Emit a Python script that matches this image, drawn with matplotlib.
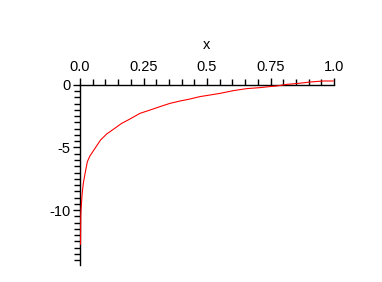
import numpy as np
import matplotlib
matplotlib.use('Agg')
import matplotlib.pyplot as plt
from matplotlib.ticker import MultipleLocator, FixedLocator

# values
xs = [0.002, 0.003, 0.004, 0.008, 0.013, 0.02, 0.029, 0.039, 0.059, 0.081,
      0.105, 0.131, 0.164, 0.194, 0.236, 0.276, 0.315, 0.354, 0.394, 0.433,
      0.472, 0.512, 0.551, 0.604, 0.656, 0.709, 0.755, 0.774, 0.814, 0.86,
      0.906, 0.958, 0.997]
ys = [-12.74, -10.5, -10.0, -8.8, -7.87, -7.07, -6.13, -5.68, -5.07, -4.4,
      -3.92, -3.55, -3.07, -2.75, -2.27, -2.0, -1.73, -1.47, -1.28, -1.12,
      -0.93, -0.8, -0.67, -0.45, -0.29, -0.21, -0.11, -0.08, 0.05, 0.13,
      0.24, 0.32, 0.32]

x_ticks = [0.0, 0.25, 0.5, 0.75, 1.0]
x_tick_labels = ['0.0', '0.25', '0.5', '0.75', '1.0']
y_ticks = [0, -5, -10]
y_tick_labels = ['0', '-5', '-10']

plt.rcParams['font.family'] = ['Liberation Sans', 'DejaVu Sans']

fig = plt.figure(figsize=(3.82, 2.82), dpi=100)
ax = fig.add_axes([80 / 382, 1 - 265 / 282, 254 / 382, 180 / 282])

ax.plot(xs, ys, color='red', linewidth=0.8, clip_on=False, zorder=3)

ax.set_xlim(0, 1)
ax.set_ylim(-14.4, 0)

ax.spines['right'].set_visible(False)
ax.spines['bottom'].set_visible(False)
ax.spines['top'].set_linewidth(1.0)
ax.spines['left'].set_linewidth(1.0)

ax.xaxis.set_ticks_position('top')
ax.xaxis.set_label_position('top')
ax.set_xticks(x_ticks)
ax.set_xticklabels(x_tick_labels)
ax.xaxis.set_minor_locator(MultipleLocator(0.05))
ax.set_yticks(y_ticks)
ax.set_yticklabels(y_tick_labels)
ax.yaxis.set_minor_locator(FixedLocator(np.arange(-14.0, 0.01, 0.5)))

ax.tick_params(axis='both', which='major', direction='out', length=5,
               width=1, labelsize=10.5, pad=2)
ax.tick_params(axis='both', which='minor', direction='out', length=4, width=1)
ax.tick_params(axis='x', which='major', length=5, pad=3)

ax.set_xlabel('x', fontsize=10.5, labelpad=8)

fig.savefig('out.png', dpi=100, facecolor='white')
